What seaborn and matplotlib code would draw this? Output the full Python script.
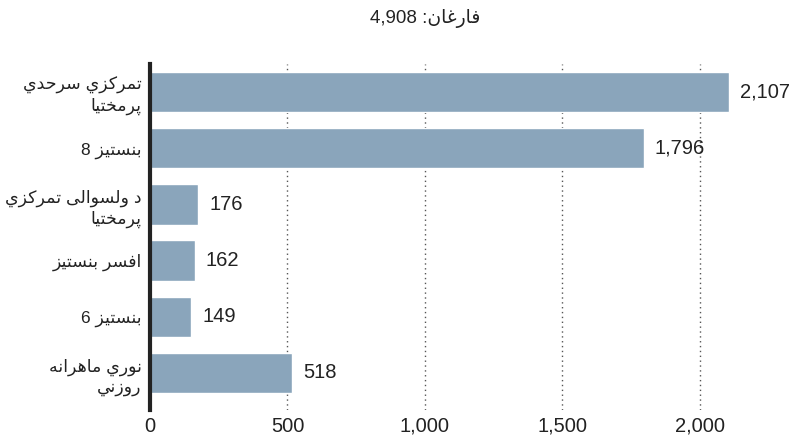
import re
import matplotlib
matplotlib.use("Agg")
import matplotlib.pyplot as plt
import seaborn as sns

# data (labels in logical order, Pashto)
categories = [
    "تمرکزي سرحدي\nپرمختیا",
    "بنستیز 8",
    "د ولسوالی تمرکزي\nپرمختیا",
    "افسر بنستیز",
    "بنستیز 6",
    "نوري ماهرانه\nروزني",
]
values = [2107, 1796, 176, 162, 149, 518]
title_text = "فارغان: 4,908"
xticks = [0, 500, 1000, 1500, 2000]

# minimal arabic shaping: iso, fin, init, med
FORMS = {
    "ا": (0xFE8D, 0xFE8E), "د": (0xFEA9, 0xFEAA), "ر": (0xFEAD, 0xFEAE),
    "ز": (0xFEAF, 0xFEB0), "و": (0xFEED, 0xFEEE),
    "ب": (0xFE8F, 0xFE90, 0xFE91, 0xFE92), "ت": (0xFE95, 0xFE96, 0xFE97, 0xFE98),
    "ح": (0xFEA1, 0xFEA2, 0xFEA3, 0xFEA4), "خ": (0xFEA5, 0xFEA6, 0xFEA7, 0xFEA8),
    "س": (0xFEB1, 0xFEB2, 0xFEB3, 0xFEB4), "غ": (0xFECD, 0xFECE, 0xFECF, 0xFED0),
    "ف": (0xFED1, 0xFED2, 0xFED3, 0xFED4), "ل": (0xFEDD, 0xFEDE, 0xFEDF, 0xFEE0),
    "م": (0xFEE1, 0xFEE2, 0xFEE3, 0xFEE4), "ن": (0xFEE5, 0xFEE6, 0xFEE7, 0xFEE8),
    "ه": (0xFEE9, 0xFEEA, 0xFEEB, 0xFEEC), "ي": (0xFEF1, 0xFEF2, 0xFEF3, 0xFEF4),
    "پ": (0xFB56, 0xFB57, 0xFB58, 0xFB59), "ک": (0xFB8E, 0xFB8F, 0xFB90, 0xFB91),
    "ی": (0xFBFC, 0xFBFD, 0xFBFE, 0xFBFF),
}


def shape_line(s):
    out = []
    for i, c in enumerate(s):
        if c not in FORMS:
            out.append(c)
            continue
        prev = s[i - 1] if i > 0 else ""
        nxt = s[i + 1] if i + 1 < len(s) else ""
        join_prev = prev in FORMS and len(FORMS[prev]) == 4
        join_next = len(FORMS[c]) == 4 and nxt in FORMS
        f = FORMS[c]
        if join_prev and join_next:
            k = 3
        elif join_next:
            k = 2
        elif join_prev:
            k = 1
        else:
            k = 0
        out.append(chr(f[k]))
    vis = "".join(out)[::-1]
    # keep numbers left-to-right
    return re.sub(r"[0-9][0-9,.]*", lambda m: m.group()[::-1], vis)


def rtl(s):
    return "\n".join(shape_line(l) for l in s.split("\n"))


sns.set_style("white")
plt.rcParams["font.family"] = ["Liberation Sans", "DejaVu Sans"]

fig = plt.figure(figsize=(7.93, 4.37), dpi=100)
ax = fig.add_axes([150 / 793, 1 - 410 / 437, 580 / 793, 346 / 437])

labels = [rtl(c) for c in categories]
sns.barplot(x=values, y=labels, orient="h", color="#8aa5bb", saturation=1,
            width=0.72, ax=ax, zorder=2)
ax.bar_label(ax.containers[0], labels=[f"{v:,}" for v in values],
             padding=8, fontsize=14.5, color="#222222")

ax.set_xlim(0, 2110)
ax.set_ylim(5.66, -0.5)
ax.set_xticks(xticks)
ax.set_xticklabels([f"{t:,}" for t in xticks])
ax.tick_params(axis="both", length=0, colors="#222222")
ax.tick_params(axis="x", pad=5, labelsize=14.5)
ax.tick_params(axis="y", pad=6, labelsize=12.5)
for lab in ax.get_yticklabels():
    lab.set_linespacing(1.3)
ax.set_xlabel("")
ax.set_ylabel("")

for t in xticks[1:]:
    ax.axvline(t, color="#555555", lw=1, ls=(0, (1, 2.5)), zorder=1)

for s in ["top", "right", "bottom"]:
    ax.spines[s].set_visible(False)
ax.spines["left"].set_color("#222222")
ax.spines["left"].set_linewidth(3)
ax.spines["left"].set_zorder(3)

fig.text(425 / 793, 1 - 18 / 437, rtl(title_text), ha="center", va="center",
         fontsize=13.5, color="#222222")

fig.savefig("out.png", dpi=100)
